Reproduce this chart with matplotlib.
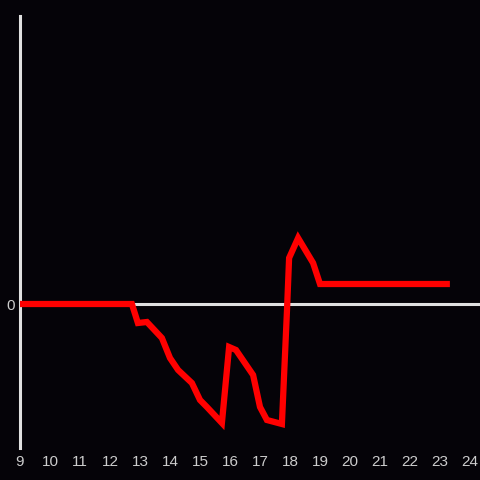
import matplotlib
matplotlib.use("Agg")
import matplotlib.pyplot as plt

# data (hours, value)
hours = [9.0, 12.73, 12.93, 13.23, 13.73, 14.0, 14.27, 14.73, 15.0, 15.23, 15.73,
         15.97, 16.2, 16.77, 17.0, 17.23, 17.73, 17.9, 17.97, 18.27, 18.77, 19.0, 23.33]
values = [0, 0, -9.5, -9, -17, -27, -33, -39.5, -48, -51.5, -59.5,
          -21.5, -23, -35.5, -51.5, -58, -60, -3, 23, 33, 20.5, 10, 10]
xticks = list(range(9, 25))

bg = "#050308"
fig = plt.figure(figsize=(4.8, 4.8), dpi=100, facecolor=bg)
ax = fig.add_axes([20/480, 32/480, 460/480, 432/480], facecolor=bg)

ax.axhline(0, color="#e0e0e0", lw=2.2, zorder=1)
ax.plot(hours, values, color="#ff0000", lw=4.5, solid_joinstyle="miter",
        solid_capstyle="butt", zorder=3)

ax.set_xlim(9, 9 + 460/30)
ax.set_ylim(-72, 144)
for s in ["top", "right", "bottom"]:
    ax.spines[s].set_visible(False)
ax.spines["left"].set_color("#e0e0e0")
ax.spines["left"].set_linewidth(2.2)
ax.spines["left"].set_zorder(2)

ax.set_xticks(xticks)
ax.set_xticklabels([str(t) for t in xticks])
ax.set_yticks([0])
ax.set_yticklabels(["0"])
ax.tick_params(axis="both", length=0, colors="#cccccc", labelsize=11)
ax.tick_params(axis="x", pad=5)
ax.tick_params(axis="y", pad=4)
for lab in ax.get_xticklabels() + ax.get_yticklabels():
    lab.set_fontfamily("Liberation Sans")

fig.savefig("out.png", dpi=100, facecolor=bg)
